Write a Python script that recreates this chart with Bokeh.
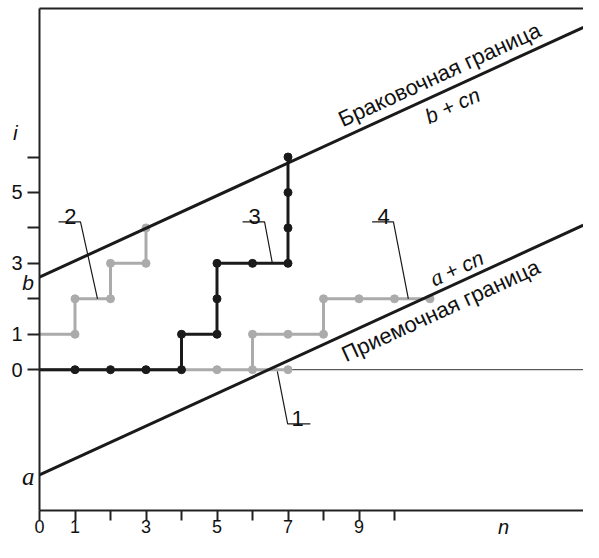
import math
from bokeh.plotting import figure
from bokeh.models import FixedTicker, Label, Range1d
from bokeh.embed import file_html
from bokeh.resources import INLINE

# ---------------- data ----------------
n_ticks = [0, 1, 2, 3, 4, 5, 6, 7, 8, 9, 10]
n_tick_labels = {0: "0", 1: "1", 3: "3", 5: "5", 7: "7", 9: "9"}
i_ticks = [0, 1, 2, 3, 4, 5, 6]
i_tick_labels = {0: "0", 1: "1", 3: "3", 5: "5"}

a_coef = -2.97     # intercept of acceptance line
b_coef = 2.61      # intercept of rejection line
c_coef = 0.46      # slope
n_end = 15.32

s1_n = [0, 1, 2, 3, 4, 5, 6, 7]
s1_i = [0, 0, 0, 0, 0, 0, 0, 0]
s2_n = [0, 1, 1, 2, 2, 3, 3]
s2_i = [1, 1, 2, 2, 3, 3, 4]
s3_n = [0, 1, 2, 3, 4, 4, 5, 5, 5, 6, 7, 7, 7, 7]
s3_i = [0, 0, 0, 0, 0, 1, 1, 2, 3, 3, 3, 4, 5, 6]
s4_n = [6, 6, 7, 8, 8, 9, 10, 11]
s4_i = [0, 1, 1, 1, 2, 2, 2, 2]

# leader lines for the curve numbers
lead2_n = [0.535, 1.155, 1.634]; lead2_i = [4.17, 4.17, 2.0]
lead3_n = [5.72, 6.34, 6.56];    lead3_i = [4.17, 4.17, 3.0]
lead4_n = [9.37, 9.97, 10.39];   lead4_i = [4.17, 4.17, 2.0]
lead1_n = [6.70, 6.99, 7.63];    lead1_i = [-0.05, -1.53, -1.53]

# ---------------- figure ----------------
PX_X = 35.5    # pixels per unit n
PX_Y = 35.45   # pixels per unit i
W, H = 583, 542
ZERO_PX = 369.2
X0 = -39 / PX_X
X1 = X0 + W / PX_X
Y1 = ZERO_PX / PX_Y
Y0 = Y1 - H / PX_Y
AXIS_I = -3.97     # where the n axis sits
TOP_I = 10.19      # top border

p = figure(width=W, height=H, x_range=Range1d(X0, X1), y_range=Range1d(Y0, Y1),
           output_backend="svg", toolbar_location=None,
           min_border_left=0, min_border_right=0, min_border_top=0, min_border_bottom=0)
p.grid.visible = False
p.outline_line_color = None
p.background_fill_color = "white"
p.border_fill_color = "white"

AX = "#222222"
FONT = "Liberation Sans"

xa = p.xaxis[0]
xa.fixed_location = AXIS_I
xa.bounds = (0, X1)
xa.ticker = FixedTicker(ticks=n_ticks)
xa.major_label_overrides = {k: n_tick_labels.get(k, "") for k in n_ticks}
xa.minor_tick_line_color = None
xa.major_tick_in = 0
xa.major_tick_out = 10
xa.major_label_standoff = 0
xa.axis_line_width = 2
xa.axis_line_color = AX
xa.major_tick_line_width = 2
xa.major_tick_line_color = AX
xa.major_label_text_font = FONT
xa.major_label_text_font_size = "18px"
xa.major_label_text_color = "#111111"

ya = p.yaxis[0]
ya.fixed_location = 0
ya.bounds = (AXIS_I, TOP_I)
ya.ticker = FixedTicker(ticks=i_ticks)
ya.major_label_overrides = {k: i_tick_labels.get(k, "") for k in i_ticks}
ya.minor_tick_line_color = None
ya.major_tick_in = 0
ya.major_tick_out = 12
ya.major_label_standoff = 5
ya.axis_line_width = 2
ya.axis_line_color = AX
ya.major_tick_line_width = 2
ya.major_tick_line_color = AX
ya.major_label_text_font = FONT
ya.major_label_text_font_size = "20px"
ya.major_label_text_color = "#111111"

GRAY = "#ababab"
BLACK = "#1a1a1a"

# top border and zero line
p.line([0, X1], [TOP_I, TOP_I], line_color=AX, line_width=2)
p.line([0, X1], [0, 0], line_color="#333333", line_width=1)

# series 1 (gray, along zero)
p.line(s1_n, s1_i, line_color=GRAY, line_width=3)
p.scatter(s1_n[5:], s1_i[5:], size=8, color=GRAY)
# series 2
p.line(s2_n, s2_i, line_color=GRAY, line_width=3)
p.scatter(s2_n[1:], s2_i[1:], size=8, color=GRAY)
# series 4
p.line(s4_n, s4_i, line_color=GRAY, line_width=3)
p.scatter(s4_n[1:], s4_i[1:], size=8, color=GRAY)
# series 3 (black)
p.line(s3_n, s3_i, line_color=BLACK, line_width=3)
p.scatter(s3_n[1:], s3_i[1:], size=8, color=BLACK)

# boundaries
bn = [0, n_end]
p.line(bn, [b_coef + c_coef * v for v in bn], line_color=BLACK, line_width=3)
p.line(bn, [a_coef + c_coef * v for v in bn], line_color=BLACK, line_width=3)

# leaders
for ln, li in [(lead1_n, lead1_i), (lead2_n, lead2_i), (lead3_n, lead3_i), (lead4_n, lead4_i)]:
    p.line(ln, li, line_color=BLACK, line_width=1.2)

def lab(x, y, t, size="22px", font=FONT, style="normal", align="center", base="alphabetic", angle=0.0):
    p.add_layout(Label(x=x, y=y, text=t, text_font=font, text_font_size=size,
                       text_font_style=style, text_align=align, text_baseline=base,
                       text_color="#111111", angle=angle))

lab(0.87, 4.33, "2")
lab(6.06, 4.33, "3")
lab(9.69, 4.33, "4")
lab(7.27, -1.39, "1")

# rotated boundary texts
ang = math.atan(c_coef * PX_Y / PX_X)

xc = 11.27
lab(xc, b_coef + c_coef * xc + 0.53, "Браковочная граница", size="22px", base="middle", angle=ang)
xc = 11.63
lab(xc, b_coef + c_coef * xc - 0.50, "b + cn", size="21px", style="italic", base="middle", angle=ang)
xc = 11.3
lab(xc, a_coef + c_coef * xc - 0.56, "Приемочная граница", size="22px", base="middle", angle=ang)

# "a + cn": serif italic a followed by sans italic "+ cn"
xc = 11.75
d_n = math.cos(ang) / PX_X
d_i = math.sin(ang) / PX_Y
xs = xc - 28 * d_n
ys = a_coef + c_coef * xc + 0.43 - 28 * d_i
lab(xs, ys, "a", size="23px", font="Liberation Serif", style="italic", align="left", base="middle", angle=ang)
lab(xs + 16 * d_n, ys + 16 * d_i, "+ cn", size="21px", style="italic", align="left", base="middle", angle=ang)

# axis letters
lab(-0.68, 6.69, "i", size="21px", style="italic", base="middle")
lab(-0.32, 2.47, "b", size="21px", style="italic", base="middle")
lab(-0.32, -3.0, "a", size="25px", font="Liberation Serif", style="italic", base="middle")
lab(13.07, -4.45, "n", size="20px", style="italic", base="middle")

open("out.html", "w").write(file_html(p, INLINE))
